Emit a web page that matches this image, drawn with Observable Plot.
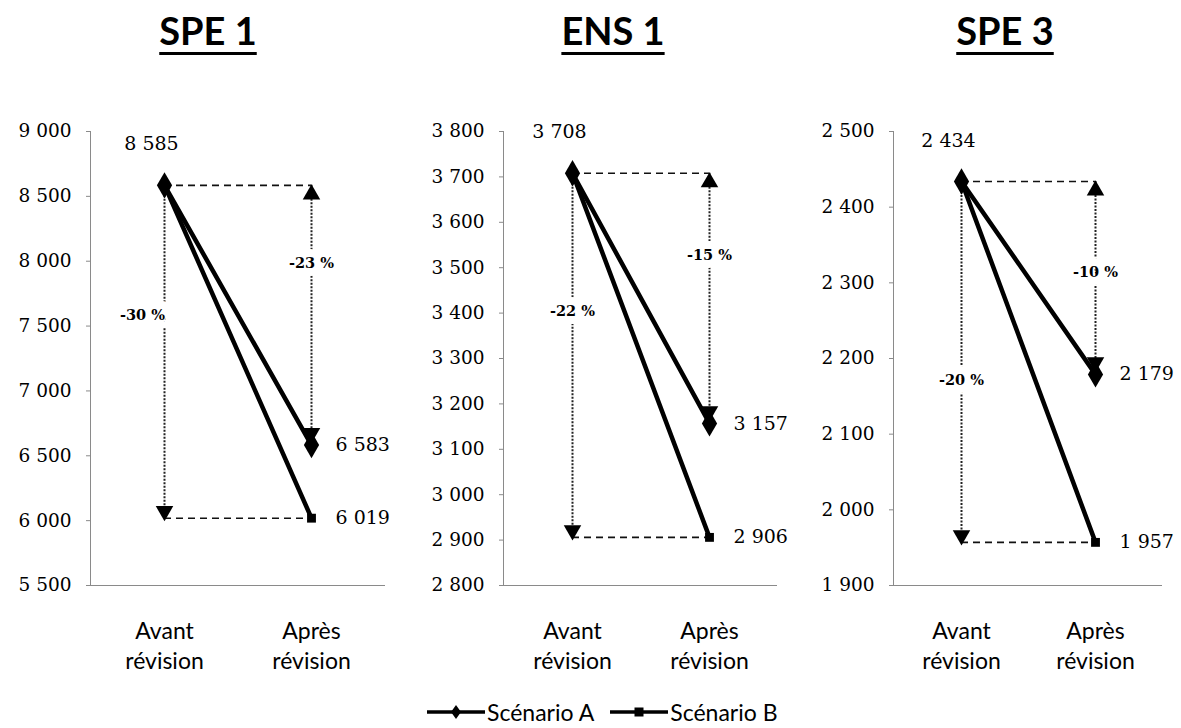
<!DOCTYPE html>
<html>
<head>
<meta charset="utf-8">
<script src="https://cdn.jsdelivr.net/npm/d3@7"></script>
<script src="https://cdn.jsdelivr.net/npm/@observablehq/plot@0.6"></script>
<style>
  html, body { margin: 0; padding: 0; background: #fff; }
  #root { position: relative; width: 1181px; height: 728px; overflow: hidden; background: #fff; }
  .title { position: absolute; top: 11px; line-height: 38px; font-family: Lato, "Open Sans", sans-serif; font-weight: 700; font-size: 38px; color: #000; transform: translateX(-50%); white-space: nowrap; text-decoration: underline; text-decoration-thickness: 3px; text-underline-offset: 7px; }
  .panel { position: absolute; top: 100px; }
  #legend { position: absolute; top: 700px; left: 427px; height: 24px; display: flex; align-items: center; font-family: Lato, sans-serif; font-size: 23px; line-height: 24px; color: #000; white-space: nowrap; }
  #legend .item { display: flex; align-items: center; margin-right: 16px; }
  #legend svg { display: block; margin-right: 2px; }
</style>
</head>
<body>
<div id="root"></div>
<script>
// ---- Data ----
const panelTitles = ["SPE 1", "ENS 1", "SPE 3"];
const categories = ["Avant révision", "Après révision"];
const scenarios = ["Scénario A", "Scénario B"];
const scenarioA = [[8585, 6583], [3708, 3157], [2434, 2179]];
const scenarioB = [[8585, 6019], [3708, 2906], [2434, 1957]];
const yDomains = [[5500, 9000], [2800, 3800], [1900, 2500]];
const yTicks = [
  [5500, 6000, 6500, 7000, 7500, 8000, 8500, 9000],
  [2800, 2900, 3000, 3100, 3200, 3300, 3400, 3500, 3600, 3700, 3800],
  [1900, 2000, 2100, 2200, 2300, 2400, 2500]
];

// ---- Layout / style ----
const layout = [
  {left: 0,   width: 393, marginLeft: 90,  marginRight: 8,  titleX: 208,  fracAvant: 0.39, fracApres: 0.30, pctDx: -22},
  {left: 393, width: 392, marginLeft: 110, marginRight: 8,  titleX: 613,  fracAvant: 0.38, fracApres: 0.33, pctDx: 0},
  {left: 785, width: 396, marginLeft: 108, marginRight: 19, titleX: 1005, fracAvant: 0.55, fracApres: 0.47, pctDx: 0}
];

const fr = d3.formatLocale({decimal: ",", thousands: " ", grouping: [3], currency: ["", " €"]});
const fmt = fr.format(",d");
const serif = "'DejaVu Serif', 'Liberation Serif', serif";
const sans = "Lato, 'Open Sans', sans-serif";

const root = document.getElementById("root");

panelTitles.forEach((title, i) => {
  const L = layout[i];
  const t = document.createElement("div");
  t.className = "title";
  t.style.left = L.titleX + "px";
  t.textContent = title;
  root.appendChild(t);

  const data = [];
  categories.forEach((c, j) => {
    data.push({cat: c, s: scenarios[0], v: scenarioA[i][j]});
    data.push({cat: c, s: scenarios[1], v: scenarioB[i][j]});
  });
  const top = scenarioA[i][0];
  const aAfter = scenarioA[i][1];
  const bAfter = scenarioB[i][1];
  const pct = v => Math.round((v - top) / top * 100) + " %";
  const [c0, c1] = categories;

  const plot = Plot.plot({
    width: L.width,
    height: 580,
    marginTop: 31,
    marginBottom: 95,
    marginLeft: L.marginLeft,
    marginRight: L.marginRight,
    style: {overflow: "visible", background: "transparent", color: "#000"},
    x: {type: "point", domain: categories, padding: 0.5, axis: null},
    y: {domain: yDomains[i]},
    marks: [
      Plot.ruleY([yDomains[i][0]], {stroke: "#8a8a8a", strokeWidth: 1}),
      Plot.frame({anchor: "left", stroke: "#8a8a8a", strokeWidth: 1}),
      Plot.axisY({ticks: yTicks[i], tickFormat: fmt, tickSize: 4, tickPadding: 15, fontSize: 18.5, fontFamily: serif, stroke: "#8a8a8a", fill: "#000"}),
      // dashed reference lines
      Plot.ruleY([{y: top, x1: c0, x2: c1}, {y: bAfter, x1: c0, x2: c1}],
        {y: "y", x1: "x1", x2: "x2", stroke: "#111", strokeWidth: 1.6, strokeDasharray: "7,5"}),
      // dotted vertical arrows
      Plot.ruleX([{x: c0, y1: top, y2: bAfter}, {x: c1, y1: top, y2: aAfter}],
        {x: "x", y1: "y1", y2: "y2", stroke: "#222", strokeWidth: 2, strokeDasharray: "2,1.5"}),
      Plot.dot([{x: c0, y: bAfter}], {x: "x", y: "y", symbol: "triangle", r: 6.5, fill: "#000", rotate: 180, dy: -7}),
      Plot.dot([{x: c1, y: aAfter}], {x: "x", y: "y", symbol: "triangle", r: 6.5, fill: "#000", rotate: 180, dy: -12}),
      Plot.dot([{x: c1, y: top}], {x: "x", y: "y", symbol: "triangle", r: 6.5, fill: "#000", dy: 9}),
      // percentage labels (white halo breaks the dotted line)
      Plot.text([{x: c0, y: top - L.fracAvant * (top - bAfter), t: pct(bAfter)}],
        {x: "x", y: "y", text: "t", dx: L.pctDx, fontSize: 14.5, fontWeight: "bold", fontFamily: serif, fill: "#000", stroke: "#fff", strokeWidth: 16}),
      Plot.text([{x: c1, y: top - L.fracApres * (top - aAfter), t: pct(aAfter)}],
        {x: "x", y: "y", text: "t", fontSize: 14.5, fontWeight: "bold", fontFamily: serif, fill: "#000", stroke: "#fff", strokeWidth: 16}),
      // series lines
      Plot.line(data, {x: "cat", y: "v", z: "s", stroke: "#000", strokeWidth: 4.5}),
      Plot.dot(data.filter(d => d.s === scenarios[1]), {x: "cat", y: "v", symbol: "square", r: 5, fill: "#000"}),
      Plot.dot(data.filter(d => d.s === scenarios[0]), {x: "cat", y: "v", symbol: "diamond", r: 8, fill: "#000"}),
      // value labels
      Plot.text([{x: c0, y: top}], {x: "x", y: "y", text: d => fmt(d.y), dx: -13, dy: -41, fontSize: 19, fontFamily: serif, fill: "#000"}),
      Plot.text([{x: c1, y: aAfter}, {x: c1, y: bAfter}], {x: "x", y: "y", text: d => fmt(d.y), textAnchor: "start", dx: 24, fontSize: 19, fontFamily: serif, fill: "#000"}),
      // category labels
      Plot.text(categories, {x: d => d, text: d => d.replace(" ", "\n"), frameAnchor: "bottom", lineAnchor: "top", dy: 32, fontSize: 23, lineHeight: 1.3, fontFamily: sans, fill: "#000"})
    ]
  });
  const wrap = document.createElement("div");
  wrap.className = "panel";
  wrap.style.left = L.left + "px";
  wrap.appendChild(plot);
  root.appendChild(wrap);
});

// ---- Legend ----
const legend = document.createElement("div");
legend.id = "legend";
scenarios.forEach((s, k) => {
  const item = document.createElement("div");
  item.className = "item";
  const marker = k === 0
    ? '<path d="M29,2 L34,9 L29,16 L24,9 Z" fill="#000"/>'
    : '<rect x="24.5" y="4.5" width="9" height="9" fill="#000"/>';
  item.innerHTML = '<svg width="58" height="18"><line x1="0" y1="9" x2="58" y2="9" stroke="#000" stroke-width="3.5"/>' + marker + '</svg><span>' + s + '</span>';
  legend.appendChild(item);
});
root.appendChild(legend);
</script>
</body>
</html>
